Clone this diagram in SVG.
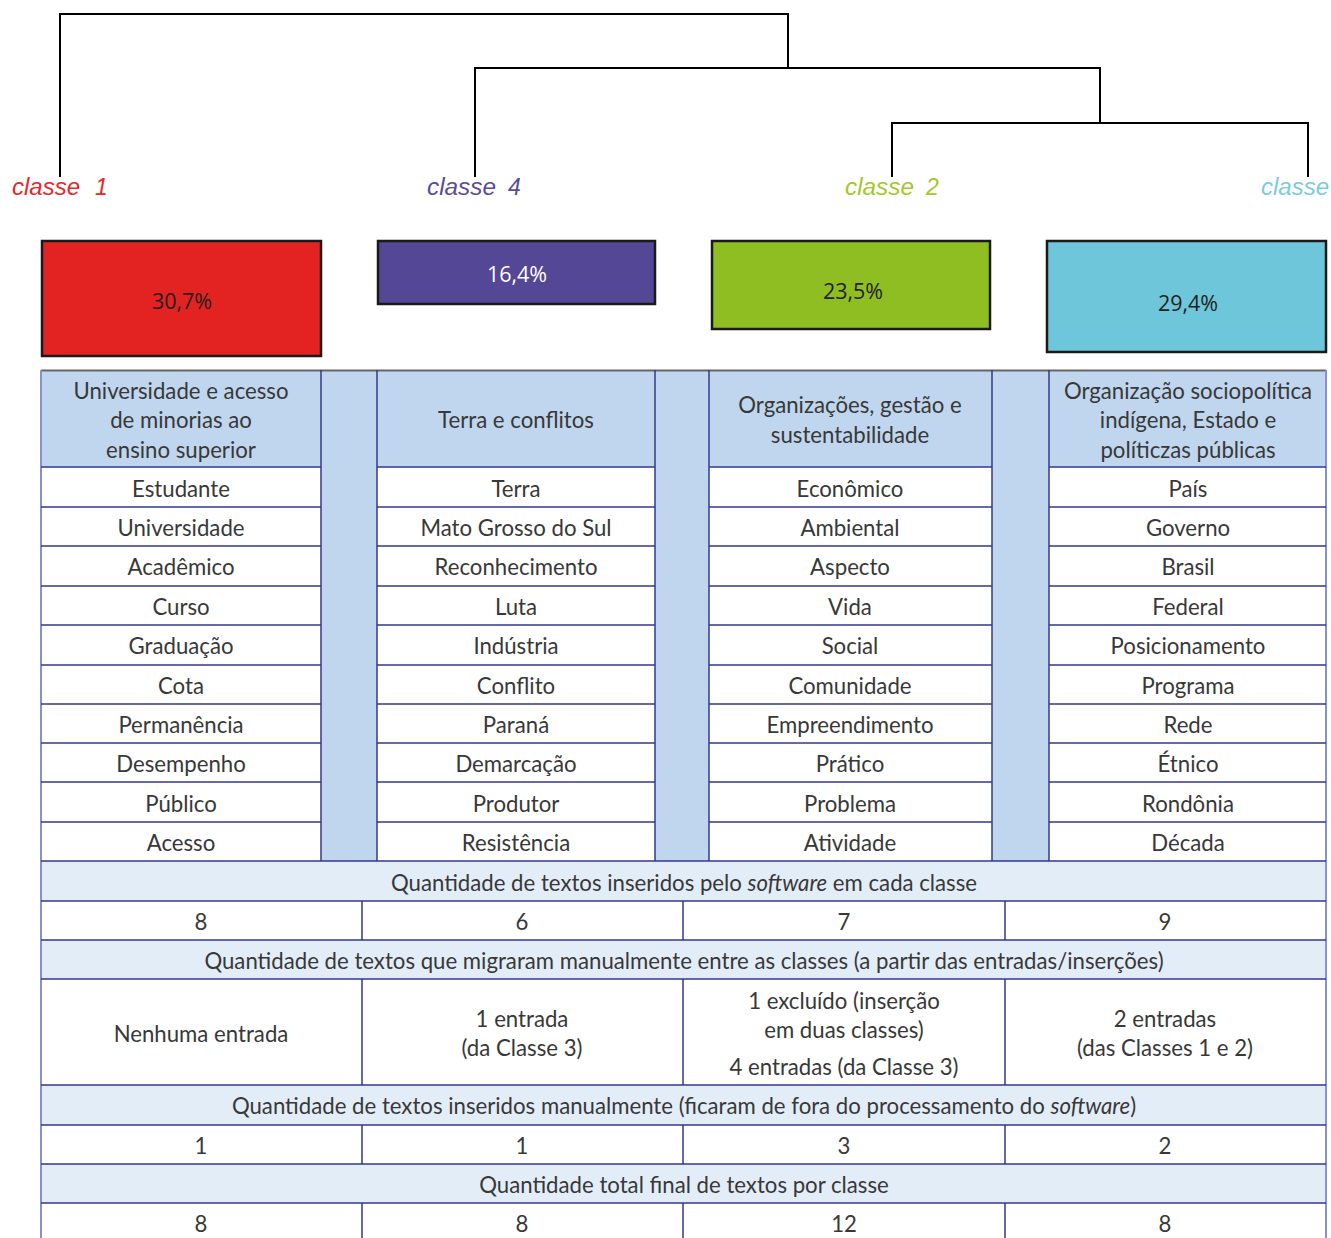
<svg xmlns="http://www.w3.org/2000/svg" width="1331" height="1238" viewBox="0 0 1331 1238">
<style>
.lbl{font-family:"Liberation Sans",Arial,sans-serif;font-style:italic;font-size:23px;}
.pct{font-family:"Open Sans","Noto Sans",sans-serif;font-size:21.5px;fill:#231f20;text-anchor:middle;}
.t{font-family:Lato,"Open Sans",sans-serif;font-size:22.2px;fill:#383838;text-anchor:middle;}
.box{stroke:#1a1a1a;stroke-width:2.5;}
.ln{stroke:#34398a;stroke-width:1.5;fill:none;}
.hd{fill:#bfd6ee;}
.sm{fill:#e3edf8;}
.den{stroke:#000;stroke-width:2;fill:none;}
</style>
<rect width="1331" height="1238" fill="#fff"/>
<g id="connectors">
<polyline class="den" points="60,177 60,14 788,14 788,68"/>
<polyline class="den" points="475,177 475,68 1100,68 1100,123"/>
<polyline class="den" points="892,177 892,123 1308,123 1308,177"/>
</g>
<g id="classe1">
<text class="lbl" x="12" y="195" fill="#e8262b"><tspan textLength="68" lengthAdjust="spacingAndGlyphs">classe</tspan><tspan x="95">1</tspan></text>
<rect class="box" x="42" y="241" width="279" height="115" fill="#e32321"/>
<text class="pct" x="182" y="309">30,7%</text>
</g>
<g id="classe4">
<text class="lbl" x="427" y="195" fill="#5a4b9c"><tspan textLength="69" lengthAdjust="spacingAndGlyphs">classe</tspan><tspan x="508">4</tspan></text>
<rect class="box" x="378" y="241" width="277" height="63" fill="#544795"/>
<text class="pct" x="517" y="282" style="fill:#fff">16,4%</text>
</g>
<g id="classe2">
<text class="lbl" x="845" y="195" fill="#a5c72c"><tspan textLength="69" lengthAdjust="spacingAndGlyphs">classe</tspan><tspan x="926">2</tspan></text>
<rect class="box" x="712" y="241" width="278" height="88" fill="#8fbe22"/>
<text class="pct" x="853" y="299">23,5%</text>
</g>
<g id="classe3">
<text class="lbl" x="1261" y="195" fill="#7ccbe0" textLength="68" lengthAdjust="spacingAndGlyphs">classe</text>
<rect class="box" x="1047" y="241" width="279" height="111" fill="#6dc6d9"/>
<text class="pct" x="1188" y="311">29,4%</text>
</g>
<g id="table">
<rect class="hd" x="41" y="370" width="1285" height="97"/>
<rect class="hd" x="321" y="370" width="56" height="491"/>
<rect class="hd" x="655" y="370" width="54" height="491"/>
<rect class="hd" x="992" y="370" width="57" height="491"/>
<rect class="sm" x="41" y="861" width="1285" height="40"/>
<rect class="sm" x="41" y="940" width="1285" height="39"/>
<rect class="sm" x="41" y="1085" width="1285" height="40"/>
<rect class="sm" x="41" y="1164" width="1285" height="39"/>
<line x1="41" y1="370.5" x2="1326" y2="370.5" stroke="#666" stroke-width="2"/>
<g class="ln">
<line x1="41" y1="370" x2="41" y2="1238" stroke="#8a8fcf" stroke-width="2"/>
<line x1="1326" y1="370" x2="1326" y2="1238" stroke="#8a8fcf" stroke-width="2"/>
<line x1="321" y1="370" x2="321" y2="861"/><line x1="377" y1="370" x2="377" y2="861"/>
<line x1="655" y1="370" x2="655" y2="861"/><line x1="709" y1="370" x2="709" y2="861"/>
<line x1="992" y1="370" x2="992" y2="861"/><line x1="1049" y1="370" x2="1049" y2="861"/>
<path d="M41 467H321M377 467H655M709 467H992M1049 467H1326"/>
<path d="M41 507H321M377 507H655M709 507H992M1049 507H1326"/>
<path d="M41 546H321M377 546H655M709 546H992M1049 546H1326"/>
<path d="M41 586H321M377 586H655M709 586H992M1049 586H1326"/>
<path d="M41 625H321M377 625H655M709 625H992M1049 625H1326"/>
<path d="M41 665H321M377 665H655M709 665H992M1049 665H1326"/>
<path d="M41 704H321M377 704H655M709 704H992M1049 704H1326"/>
<path d="M41 743H321M377 743H655M709 743H992M1049 743H1326"/>
<path d="M41 782H321M377 782H655M709 782H992M1049 782H1326"/>
<path d="M41 822H321M377 822H655M709 822H992M1049 822H1326"/>
<path d="M41 861H1326M41 901H1326M41 940H1326M41 979H1326M41 1085H1326M41 1125H1326M41 1164H1326M41 1203H1326"/>
<path d="M362 901V940M683 901V940M1005 901V940"/>
<path d="M362 979V1085M683 979V1085M1005 979V1085"/>
<path d="M362 1125V1164M683 1125V1164M1005 1125V1164"/>
<path d="M362 1203V1238M683 1203V1238M1005 1203V1238"/>
</g>
<g class="t">
<text x="181" y="399">Universidade e acesso</text>
<text x="181" y="428">de minorias ao</text>
<text x="181" y="458">ensino superior</text>
<text x="516" y="428">Terra e conflitos</text>
<text x="850" y="413">Organizações, gestão e</text>
<text x="850" y="443">sustentabilidade</text>
<text x="1188" y="399">Organização sociopolítica</text>
<text x="1188" y="428">indígena, Estado e</text>
<text x="1188" y="458">políticzas públicas</text>

<text x="181" y="497">Estudante</text>
<text x="181" y="536">Universidade</text>
<text x="181" y="575">Acadêmico</text>
<text x="181" y="615">Curso</text>
<text x="181" y="654">Graduação</text>
<text x="181" y="694">Cota</text>
<text x="181" y="733">Permanência</text>
<text x="181" y="772">Desempenho</text>
<text x="181" y="812">Público</text>
<text x="181" y="851">Acesso</text>

<text x="516" y="497">Terra</text>
<text x="516" y="536">Mato Grosso do Sul</text>
<text x="516" y="575">Reconhecimento</text>
<text x="516" y="615">Luta</text>
<text x="516" y="654">Indústria</text>
<text x="516" y="694">Conflito</text>
<text x="516" y="733">Paraná</text>
<text x="516" y="772">Demarcação</text>
<text x="516" y="812">Produtor</text>
<text x="516" y="851">Resistência</text>

<text x="850" y="497">Econômico</text>
<text x="850" y="536">Ambiental</text>
<text x="850" y="575">Aspecto</text>
<text x="850" y="615">Vida</text>
<text x="850" y="654">Social</text>
<text x="850" y="694">Comunidade</text>
<text x="850" y="733">Empreendimento</text>
<text x="850" y="772">Prático</text>
<text x="850" y="812">Problema</text>
<text x="850" y="851">Atividade</text>

<text x="1188" y="497">País</text>
<text x="1188" y="536">Governo</text>
<text x="1188" y="575">Brasil</text>
<text x="1188" y="615">Federal</text>
<text x="1188" y="654">Posicionamento</text>
<text x="1188" y="694">Programa</text>
<text x="1188" y="733">Rede</text>
<text x="1188" y="772">Étnico</text>
<text x="1188" y="812">Rondônia</text>
<text x="1188" y="851">Década</text>

<text x="684" y="891">Quantidade de textos inseridos pelo <tspan font-style="italic">software</tspan> em cada classe</text>
<text x="201" y="930">8</text><text x="522" y="930">6</text><text x="844" y="930">7</text><text x="1165" y="930">9</text>
<text x="684" y="969">Quantidade de textos que migraram manualmente entre as classes (a partir das entradas/inserções)</text>
<text x="201" y="1042">Nenhuma entrada</text>
<text x="522" y="1027">1 entrada</text>
<text x="522" y="1056">(da Classe 3)</text>
<text x="844" y="1009">1 excluído (inserção</text>
<text x="844" y="1038">em duas classes)</text>
<text x="844" y="1075">4 entradas (da Classe 3)</text>
<text x="1165" y="1027">2 entradas</text>
<text x="1165" y="1056">(das Classes 1 e 2)</text>
<text x="684" y="1114">Quantidade de textos inseridos manualmente (ficaram de fora do processamento do <tspan font-style="italic">software</tspan>)</text>
<text x="201" y="1154">1</text><text x="522" y="1154">1</text><text x="844" y="1154">3</text><text x="1165" y="1154">2</text>
<text x="684" y="1193">Quantidade total final de textos por classe</text>
<text x="201" y="1232">8</text><text x="522" y="1232">8</text><text x="844" y="1232">12</text><text x="1165" y="1232">8</text>
</g>
</g>
</svg>
